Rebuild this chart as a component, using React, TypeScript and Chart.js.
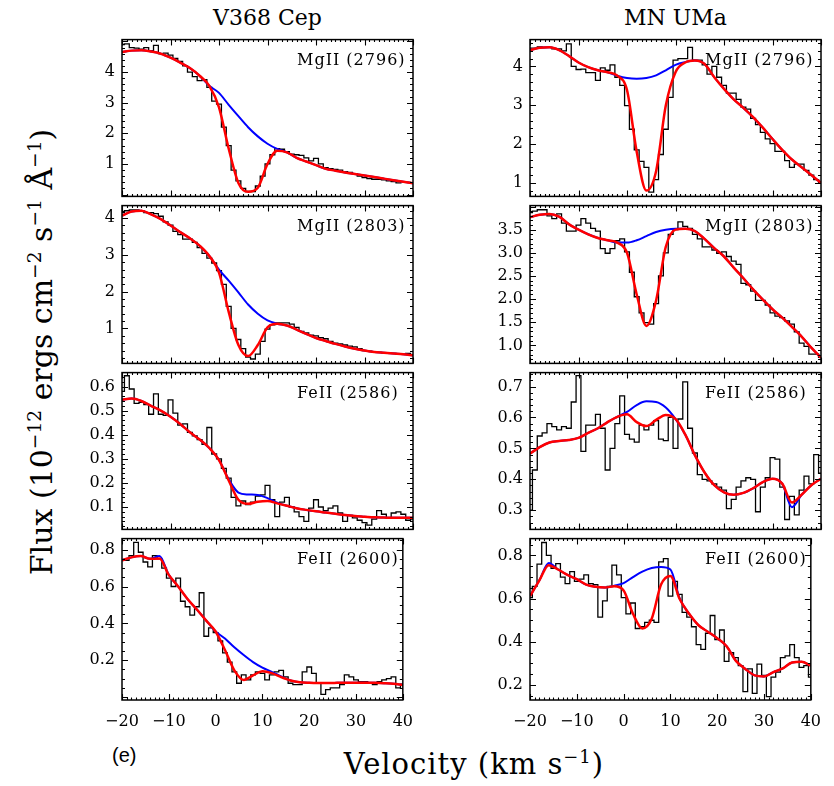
import React, { useEffect, useRef } from "react";
import { Chart, registerables } from "chart.js";

Chart.register(...registerables);

// ---------- grids / labels ----------
const velocityBins = Array.from({ length: 61 }, (_, i) => -20 + i); // observed spectrum bins (km/s)
const fitVelocities = Array.from({ length: 31 }, (_, i) => -20 + 2 * i); // model curve samples (km/s)
const velocityTicks = [-20, -10, 0, 10, 20, 30, 40];
const starNames = ["V368 Cep", "MN UMa"];
const lineNames = ["MgII (2796)", "MgII (2803)", "FeII (2586)", "FeII (2600)"];

// ---------- V368 Cep ----------
const v368Mg2796Obs = [
  4.90, 4.92, 4.80, 4.78, 4.75, 4.80, 4.70, 4.87, 4.60, 4.62,
  4.55, 4.45, 4.35, 4.20, 4.00, 3.85, 3.72, 3.75, 3.50, 3.05,
  2.95, 2.20, 1.60, 0.80, 0.45, 0.20, 0.10, 0.10, 0.28, 0.60,
  1.00, 1.30, 1.50, 1.48, 1.40, 1.32, 1.30, 1.28, 1.20, 1.10,
  1.18, 1.00, 0.88, 0.85, 0.82, 0.80, 0.75, 0.72, 0.68, 0.60,
  0.55, 0.52, 0.50, 0.50, 0.48, 0.45, 0.42, 0.38, 0.42, 0.40,
  0.38,
];
const v368Mg2796Fit = [
  4.65, 4.70, 4.71, 4.67, 4.60, 4.47, 4.31, 4.13, 3.88, 3.55,
  2.85, 1.50, 0.38, 0.09, 0.22, 1.00, 1.43, 1.38, 1.20, 1.08,
  0.96, 0.84, 0.78, 0.72, 0.67, 0.62, 0.57, 0.52, 0.47, 0.42,
  0.37,
];
const v368Mg2796Cont = [
  4.65, 4.70, 4.71, 4.67, 4.60, 4.47, 4.31, 4.13, 3.88, 3.55,
  3.32, 2.93, 2.56, 2.20, 1.90, 1.66, 1.49, 1.38, 1.20, 1.08,
  0.96, 0.84, 0.78, 0.72, 0.67, 0.62, 0.57, 0.52, 0.47, 0.42,
  0.37,
];

const v368Mg2803Obs = [
  4.15, 4.20, 4.22, 4.22, 4.20, 4.15, 4.15, 4.12, 4.05, 3.90,
  3.81, 3.64, 3.55, 3.43, 3.43, 3.34, 3.20, 3.04, 2.91, 2.78,
  2.57, 2.20, 1.60, 1.00, 0.70, 0.45, 0.22, 0.17, 0.30, 0.65,
  0.98, 1.10, 1.15, 1.15, 1.15, 1.12, 1.03, 0.92, 0.88, 0.82,
  0.80, 0.75, 0.72, 0.65, 0.60, 0.58, 0.55, 0.52, 0.50, 0.45,
  0.40, 0.38, 0.36, 0.35, 0.34, 0.33, 0.32, 0.30, 0.30, 0.32,
  0.28,
];
const v368Mg2803Fit = [
  4.07, 4.18, 4.20, 4.10, 3.97, 3.80, 3.62, 3.45, 3.25, 2.97,
  2.52, 1.45, 0.55, 0.25, 0.55, 1.03, 1.13, 1.08, 0.97, 0.85,
  0.74, 0.66, 0.58, 0.51, 0.45, 0.40, 0.36, 0.34, 0.32, 0.30,
  0.27,
];
const v368Mg2803Cont = [
  4.07, 4.18, 4.20, 4.10, 3.97, 3.80, 3.62, 3.45, 3.25, 2.97,
  2.60, 2.30, 1.98, 1.65, 1.40, 1.22, 1.13, 1.08, 0.97, 0.85,
  0.74, 0.66, 0.58, 0.51, 0.45, 0.40, 0.36, 0.34, 0.32, 0.30,
  0.27,
];

const v368Fe2586Obs = [
  0.58, 0.645, 0.59, 0.53, 0.535, 0.525, 0.485, 0.57, 0.485, 0.48,
  0.545, 0.49, 0.44, 0.445, 0.41, 0.395, 0.38, 0.36, 0.43, 0.32,
  0.30, 0.26, 0.22, 0.14, 0.105, 0.125, 0.11, 0.12, 0.145, 0.15,
  0.19, 0.13, 0.06, 0.12, 0.14, 0.10, 0.08, 0.06, 0.04, 0.095,
  0.13, 0.10, 0.085, 0.095, 0.105, 0.075, 0.04, 0.065, 0.055, 0.045,
  0.035, 0.025, 0.05, 0.085, 0.07, 0.055, 0.075, 0.08, 0.07, 0.045,
  0.05,
];
const v368Fe2586Fit = [
  0.545, 0.55, 0.54, 0.52, 0.50, 0.475, 0.445, 0.41, 0.38, 0.345,
  0.295, 0.21, 0.13, 0.113, 0.122, 0.125, 0.115, 0.105, 0.095, 0.088,
  0.082, 0.077, 0.072, 0.067, 0.063, 0.060, 0.057, 0.056, 0.055, 0.055,
  0.055,
];
const v368Fe2586Cont = [
  0.545, 0.55, 0.54, 0.52, 0.50, 0.475, 0.445, 0.41, 0.38, 0.345,
  0.295, 0.215, 0.16, 0.152, 0.150, 0.137, 0.118, 0.105, 0.095, 0.088,
  0.082, 0.077, 0.072, 0.067, 0.063, 0.060, 0.057, 0.056, 0.055, 0.055,
  0.055,
];

const v368Fe2600Obs = [
  0.742, 0.742, 0.768, 0.84, 0.786, 0.733, 0.707, 0.768, 0.75, 0.70,
  0.645, 0.60, 0.645, 0.52, 0.49, 0.445, 0.49, 0.566, 0.33, 0.375,
  0.35, 0.305, 0.24, 0.19, 0.137, 0.075, 0.12, 0.093, 0.12, 0.137,
  0.128, 0.093, 0.12, 0.137, 0.145, 0.11, 0.075, 0.067, 0.067, 0.137,
  0.163, 0.128, 0.075, 0.014, 0.04, 0.05, 0.05, 0.067, 0.12, 0.11,
  0.093, 0.084, 0.084, 0.075, 0.067, 0.084, 0.093, 0.10, 0.11, 0.05,
  0.07,
];
const v368Fe2600Fit = [
  0.742, 0.758, 0.765, 0.750, 0.752, 0.663, 0.600, 0.532, 0.475, 0.415,
  0.356, 0.255, 0.145, 0.093, 0.118, 0.140, 0.130, 0.108, 0.090, 0.080,
  0.077, 0.076, 0.076, 0.077, 0.078, 0.078, 0.078, 0.077, 0.075, 0.072,
  0.066,
];
const v368Fe2600Cont = [
  0.742, 0.758, 0.765, 0.750, 0.765, 0.663, 0.600, 0.532, 0.475, 0.415,
  0.356, 0.318, 0.270, 0.228, 0.190, 0.160, 0.137, 0.112, 0.090, 0.080,
  0.077, 0.076, 0.076, 0.077, 0.078, 0.078, 0.078, 0.077, 0.075, 0.072,
  0.066,
];

// ---------- MN UMa ----------
const mnUMaMg2796Obs = [
  4.47, 4.47, 4.50, 4.49, 4.49, 4.45, 4.45, 4.40, 4.58, 4.00,
  3.92, 3.93, 3.84, 3.84, 3.64, 3.96, 3.90, 4.04, 3.72, 3.51,
  2.99, 2.38, 1.85, 1.55, 1.40, 0.76, 1.08, 1.73, 2.38, 3.20,
  4.16, 4.20, 4.20, 4.49, 4.16, 4.16, 4.04, 3.80, 4.00, 3.72,
  3.51, 3.31, 3.31, 3.15, 2.95, 2.90, 2.66, 2.50, 2.30, 2.13,
  2.01, 1.81, 1.81, 1.57, 1.40, 1.48, 1.48, 1.32, 1.20, 1.08,
  1.00,
];
const mnUMaMg2796Fit = [
  4.42, 4.48, 4.49, 4.42, 4.27, 4.10, 3.98, 3.90, 3.85, 3.76,
  3.39, 1.80, 0.80, 1.30, 2.99, 3.85, 4.10, 4.15, 4.06, 3.72,
  3.42, 3.15, 2.93, 2.69, 2.42, 2.13, 1.85, 1.60, 1.40, 1.20,
  1.00,
];
const mnUMaMg2796Cont = [
  4.42, 4.48, 4.49, 4.42, 4.27, 4.10, 3.98, 3.90, 3.85, 3.76,
  3.70, 3.68, 3.70, 3.77, 3.90, 4.04, 4.11, 4.15, 4.06, 3.72,
  3.42, 3.15, 2.93, 2.69, 2.42, 2.13, 1.85, 1.60, 1.40, 1.20,
  1.00,
];

const mnUMaMg2803Obs = [
  3.87, 3.90, 3.93, 3.93, 3.80, 3.74, 3.84, 3.64, 3.47, 3.47,
  3.60, 3.74, 3.64, 3.53, 3.47, 3.09, 2.99, 3.09, 3.26, 3.30,
  3.02, 2.58, 2.05, 1.70, 1.49, 1.46, 1.90, 2.50, 3.00, 3.40,
  3.50, 3.67, 3.57, 3.53, 3.40, 3.30, 3.13, 3.13, 3.06, 2.99,
  3.02, 2.92, 2.82, 2.75, 2.34, 2.31, 2.17, 1.97, 1.97, 1.87,
  1.70, 1.63, 1.60, 1.53, 1.46, 1.29, 1.05, 0.98, 0.81, 0.81,
  0.74,
];
const mnUMaMg2803Fit = [
  3.77, 3.82, 3.84, 3.78, 3.62, 3.50, 3.40, 3.32, 3.27, 3.22,
  3.00, 2.10, 1.42, 1.97, 3.13, 3.50, 3.52, 3.47, 3.30, 3.10,
  2.92, 2.68, 2.45, 2.21, 1.99, 1.78, 1.60, 1.40, 1.19, 0.95,
  0.73,
];
const mnUMaMg2803Cont = [
  3.77, 3.82, 3.84, 3.78, 3.62, 3.50, 3.40, 3.32, 3.27, 3.22,
  3.22, 3.27, 3.36, 3.45, 3.50, 3.52, 3.52, 3.47, 3.30, 3.10,
  2.92, 2.68, 2.45, 2.21, 1.99, 1.78, 1.60, 1.40, 1.19, 0.95,
  0.73,
];

const mnUMaFe2586Obs = [
  0.30, 0.43, 0.54, 0.55, 0.58, 0.57, 0.56, 0.57, 0.565, 0.65,
  0.735, 0.49, 0.575, 0.575, 0.61, 0.565, 0.43, 0.50, 0.58, 0.67,
  0.545, 0.53, 0.52, 0.575, 0.56, 0.575, 0.59, 0.53, 0.525, 0.60,
  0.50, 0.595, 0.715, 0.565, 0.485, 0.415, 0.40, 0.395, 0.385, 0.375,
  0.365, 0.305, 0.335, 0.375, 0.395, 0.405, 0.40, 0.295, 0.375, 0.405,
  0.47, 0.465, 0.375, 0.27, 0.345, 0.285, 0.365, 0.41, 0.385, 0.48,
  0.42,
];
const mnUMaFe2586Fit = [
  0.483, 0.504, 0.519, 0.524, 0.527, 0.534, 0.550, 0.565, 0.585, 0.602,
  0.610, 0.585, 0.572, 0.592, 0.608, 0.595, 0.545, 0.478, 0.422, 0.381,
  0.358, 0.350, 0.356, 0.371, 0.391, 0.402, 0.386, 0.325, 0.350, 0.381,
  0.402,
];
const mnUMaFe2586Cont = [
  0.483, 0.504, 0.519, 0.524, 0.527, 0.534, 0.550, 0.565, 0.585, 0.602,
  0.618, 0.640, 0.652, 0.650, 0.632, 0.595, 0.545, 0.478, 0.422, 0.381,
  0.358, 0.350, 0.356, 0.371, 0.391, 0.402, 0.386, 0.310, 0.350, 0.381,
  0.402,
];

const mnUMaFe2600Obs = [
  0.605, 0.657, 0.76, 0.86, 0.80, 0.74, 0.762, 0.70, 0.67, 0.725,
  0.68, 0.69, 0.71, 0.67, 0.665, 0.515, 0.59, 0.657, 0.755, 0.71,
  0.605, 0.53, 0.58, 0.462, 0.47, 0.49, 0.50, 0.49, 0.77, 0.785,
  0.612, 0.68, 0.62, 0.537, 0.515, 0.47, 0.387, 0.365, 0.44, 0.522,
  0.41, 0.455, 0.31, 0.35, 0.327, 0.29, 0.17, 0.275, 0.162, 0.297,
  0.245, 0.147, 0.237, 0.26, 0.327, 0.335, 0.387, 0.327, 0.282, 0.29,
  0.237,
];
const mnUMaFe2600Fit = [
  0.612, 0.685, 0.755, 0.735, 0.710, 0.690, 0.665, 0.655, 0.652, 0.657,
  0.638, 0.530, 0.462, 0.507, 0.665, 0.705, 0.597, 0.530, 0.477, 0.447,
  0.417, 0.380, 0.312, 0.275, 0.245, 0.240, 0.260, 0.277, 0.305, 0.308,
  0.290,
];
const mnUMaFe2600Cont = [
  0.612, 0.685, 0.765, 0.735, 0.710, 0.690, 0.665, 0.655, 0.652, 0.660,
  0.672, 0.700, 0.725, 0.742, 0.747, 0.735, 0.600, 0.530, 0.477, 0.447,
  0.417, 0.380, 0.312, 0.275, 0.245, 0.240, 0.260, 0.277, 0.305, 0.308,
  0.290,
];

// ---------- y axes ----------
const yRanges = [
  [[-0.06, 5.06], [0.65, 4.69]],
  [[0.05, 4.34], [0.61, 4.02]],
  [[0.007, 0.658], [0.238, 0.745]],
  [[-0.016, 0.86], [0.131, 0.878]],
];
const yTickValues = [
  [[1, 2, 3, 4], [1, 2, 3, 4]],
  [[1, 2, 3, 4], [1.0, 1.5, 2.0, 2.5, 3.0, 3.5]],
  [[0.1, 0.2, 0.3, 0.4, 0.5, 0.6], [0.3, 0.4, 0.5, 0.6, 0.7]],
  [[0.2, 0.4, 0.6, 0.8], [0.2, 0.4, 0.6, 0.8]],
];
const yMinorSteps = [
  [0.2, 0.2],
  [0.2, 0.1],
  [0.02, 0.02],
  [0.05, 0.05],
];
const yDecimals = [
  [0, 0],
  [0, 1],
  [1, 1],
  [1, 1],
];

const observed = [
  [v368Mg2796Obs, mnUMaMg2796Obs],
  [v368Mg2803Obs, mnUMaMg2803Obs],
  [v368Fe2586Obs, mnUMaFe2586Obs],
  [v368Fe2600Obs, mnUMaFe2600Obs],
];
const fitted = [
  [v368Mg2796Fit, mnUMaMg2796Fit],
  [v368Mg2803Fit, mnUMaMg2803Fit],
  [v368Fe2586Fit, mnUMaFe2586Fit],
  [v368Fe2600Fit, mnUMaFe2600Fit],
];
const continuum = [
  [v368Mg2796Cont, mnUMaMg2796Cont],
  [v368Mg2803Cont, mnUMaMg2803Cont],
  [v368Fe2586Cont, mnUMaFe2586Cont],
  [v368Fe2600Cont, mnUMaFe2600Cont],
];

// ---------- layout (page pixels) ----------
const COL_LEFT = [122, 530];
const PANEL_W = 291;
const ROW_EDGES = [35, 201, 368, 534, 700];
const PAD_L = 60;
const PAD_T = 12;
const PAD_R = 12;
const FONT = '"DejaVu Serif", serif';
const SUP = { fontSize: "62%", lineHeight: 0 } as const;

const fmtVel = (v: number) => (v < 0 ? "\u2212" + Math.abs(v) : String(v));

function Panel({ row, col }: { row: number; col: number }) {
  const ref = useRef<HTMLCanvasElement | null>(null);
  const isBottom = row === 3;
  const top = ROW_EDGES[row];
  const h = ROW_EDGES[row + 1] - top;
  const padB = isBottom ? 38 : 12;
  const cw = PAD_L + PANEL_W + PAD_R;
  const ch = PAD_T + h + padB;

  useEffect(() => {
    const canvas = ref.current;
    if (!canvas) return;
    const [yMin, yMax] = yRanges[row][col];
    const majors = yTickValues[row][col];
    const minor = yMinorSteps[row][col];
    const dec = yDecimals[row][col];
    const label = lineNames[row];

    const frame = {
      id: "panelFrame",
      afterDatasetsDraw(chart: any) {
        const { ctx, chartArea: a, scales } = chart;
        const xs = scales.x;
        const ys = scales.y;
        ctx.save();
        ctx.strokeStyle = "#000";
        ctx.lineWidth = 1.1;
        ctx.beginPath();
        for (let v = -20; v <= 40; v += 1) {
          const len = v % 10 === 0 ? 6 : 2.5;
          const px = Math.round(xs.getPixelForValue(v)) + 0.5;
          ctx.moveTo(px, a.bottom);
          ctx.lineTo(px, a.bottom - len);
          ctx.moveTo(px, a.top);
          ctx.lineTo(px, a.top + len);
        }
        const majorStep = majors[1] - majors[0];
        const k0 = Math.ceil(yMin / minor - 1e-6);
        const k1 = Math.floor(yMax / minor + 1e-6);
        for (let k = k0; k <= k1; k++) {
          const v = k * minor;
          const isMajor = Math.abs(v / majorStep - Math.round(v / majorStep)) < 1e-6;
          const len = isMajor ? 6 : 3;
          const py = Math.round(ys.getPixelForValue(v)) + 0.5;
          ctx.moveTo(a.left, py);
          ctx.lineTo(a.left + len, py);
          ctx.moveTo(a.right, py);
          ctx.lineTo(a.right - len, py);
        }
        ctx.stroke();
        ctx.lineWidth = 1.5;
        ctx.strokeRect(a.left, a.top, a.right - a.left, a.bottom - a.top);
        ctx.fillStyle = "#000";
        ctx.font = "16px " + FONT;
        try {
          (ctx as any).letterSpacing = "1px";
        } catch (e) {}
        ctx.textAlign = "left";
        ctx.textBaseline = "alphabetic";
        ctx.fillText(label, a.left + 175, a.top + 25);
        ctx.restore();
      },
    };

    const chart = new Chart(canvas, {
      type: "line",
      data: {
        datasets: [
          {
            data: fitVelocities.map((v, i) => ({ x: v, y: fitted[row][col][i] })),
            borderColor: "#ff0000",
            borderWidth: 2.5,
            cubicInterpolationMode: "monotone",
            pointRadius: 0,
            fill: false,
          },
          {
            data: fitVelocities.map((v, i) => ({ x: v, y: continuum[row][col][i] })),
            borderColor: "#0000ff",
            borderWidth: 2,
            cubicInterpolationMode: "monotone",
            pointRadius: 0,
            fill: false,
          },
          {
            data: velocityBins.map((v, i) => ({ x: v, y: observed[row][col][i] })),
            borderColor: "#000000",
            borderWidth: 1.3,
            stepped: "middle",
            pointRadius: 0,
            fill: false,
          },
        ],
      },
      options: {
        animation: false,
        responsive: false,
        maintainAspectRatio: false,
        devicePixelRatio: 1,
        events: [],
        layout: { padding: { left: 0, top: PAD_T, right: PAD_R, bottom: isBottom ? 0 : padB } },
        plugins: { legend: { display: false }, tooltip: { enabled: false } },
        scales: {
          x: {
            type: "linear",
            min: -20,
            max: 40,
            grid: { display: false, drawTicks: false },
            border: { display: false },
            ticks: {
              display: isBottom,
              autoSkip: false,
              maxRotation: 0,
              minRotation: 0,
              padding: 12,
              color: "#000",
              font: { family: FONT, size: 16 },
              callback: (v: any) => fmtVel(Number(v)),
            },
            afterBuildTicks: (s: any) => {
              s.ticks = velocityTicks.map((v) => ({ value: v }));
            },
            afterFit: (s: any) => {
              s.height = isBottom ? padB : 0;
            },
          },
          y: {
            type: "linear",
            min: yMin,
            max: yMax,
            grid: { display: false, drawTicks: false },
            border: { display: false },
            ticks: {
              autoSkip: false,
              padding: 7,
              color: "#000",
              font: { family: FONT, size: 16 },
              callback: (v: any) => Number(v).toFixed(dec),
            },
            afterBuildTicks: (s: any) => {
              s.ticks = majors.map((v) => ({ value: v }));
            },
            afterFit: (s: any) => {
              s.width = PAD_L;
            },
          },
        },
      } as any,
      plugins: [frame],
    });
    return () => chart.destroy();
  }, [row, col]);

  return (
    <canvas
      ref={ref}
      width={cw}
      height={ch}
      style={{
        position: "absolute",
        left: COL_LEFT[col] - PAD_L,
        top: top - PAD_T,
        width: cw,
        height: ch,
      }}
    />
  );
}

export default function App() {
  const cells: JSX.Element[] = [];
  for (let r = 0; r < 4; r++) {
    for (let c = 0; c < 2; c++) {
      cells.push(<Panel key={r + "-" + c} row={r} col={c} />);
    }
  }
  return (
    <div
      style={{
        position: "absolute",
        left: 0,
        top: 0,
        width: 834,
        height: 786,
        background: "#fff",
        overflow: "hidden",
        fontFamily: FONT,
        color: "#000",
      }}
    >
      {starNames.map((name, c) => (
        <div
          key={name}
          style={{
            position: "absolute",
            left: COL_LEFT[c] + PANEL_W / 2,
            top: 7,
            transform: "translateX(-50%)",
            fontSize: 22,
            lineHeight: "22px",
            whiteSpace: "nowrap",
          }}
        >
          {name}
        </div>
      ))}
      {cells}
      <div
        style={{
          position: "absolute",
          left: 42,
          top: 352,
          transform: "translate(-50%, -50%) rotate(-90deg)",
          fontSize: 30,
          lineHeight: "30px",
          whiteSpace: "nowrap",
        }}
      >
        Flux (10<sup style={SUP}>{"\u221212"}</sup> ergs cm
        <sup style={SUP}>{"\u22122"}</sup> s
        <sup style={SUP}>{"\u22121"}</sup> Å
        <sup style={SUP}>{"\u22121"}</sup>)
      </div>
      <div
        style={{
          position: "absolute",
          left: 474,
          top: 750,
          transform: "translateX(-50%)",
          fontSize: 29,
          lineHeight: "29px",
          letterSpacing: 1,
          whiteSpace: "nowrap",
        }}
      >
        Velocity (km s<sup style={SUP}>{"\u22121"}</sup>)
      </div>
      <div
        style={{
          position: "absolute",
          left: 112,
          top: 745,
          fontFamily: '"Liberation Sans", Arial, sans-serif',
          fontSize: 20,
          lineHeight: "20px",
          whiteSpace: "nowrap",
        }}
      >
        (e)
      </div>
    </div>
  );
}
